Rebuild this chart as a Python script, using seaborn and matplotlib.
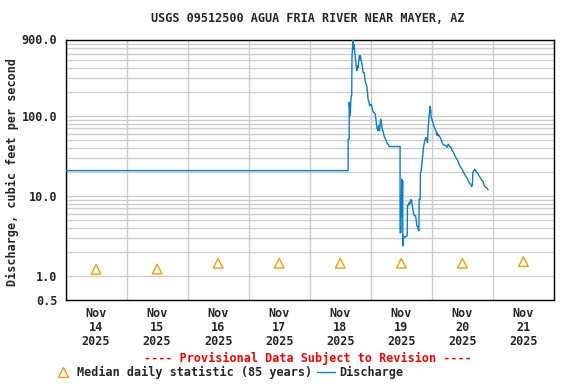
import pandas as pd
import numpy as np
import matplotlib
matplotlib.use("Agg")
import matplotlib.pyplot as plt
import matplotlib.dates as mdates
import seaborn as sns
from matplotlib.lines import Line2D
from matplotlib.ticker import FixedLocator, NullFormatter

# --------------------
# Data
# --------------------
start = pd.Timestamp("2025-11-14 00:00")

# hours since Nov 14 00:00, discharge in cfs
q_hours = [
    0, 111.1, 111.1, 111.5, 111.5, 111.7, 111.9, 112.1, 112.3, 112.5,
    112.6, 113.0, 113.2, 113.3, 113.6, 113.7, 114.5, 114.8, 115.0, 115.3,
    115.5, 115.8, 115.9, 116.2, 116.5, 116.7, 117.0, 117.4, 117.6, 117.9,
    118.4, 118.7, 118.9, 119.2, 119.5, 119.7, 120.0, 120.1, 120.4, 120.8,
    121.0, 121.3, 121.7, 122.0, 122.4, 122.6, 122.9, 123.1, 123.4, 123.7,
    123.9, 124.2, 124.5, 124.8, 125.2, 125.8, 126.3, 126.8, 127.2, 131.5,
    131.5, 131.9, 131.9, 132.2, 132.3, 132.5, 132.6, 132.7, 132.8, 133.1,
    134.3, 134.4, 134.8, 135.1, 135.3, 135.7, 136.0, 136.3, 136.5, 137.0,
    137.6, 137.8, 138.1, 138.4, 138.6, 138.9, 139.0, 139.4, 139.5, 139.8,
    140.1, 140.4, 140.7, 141.2, 141.6, 141.9, 142.3, 142.5, 142.8, 143.2,
    143.3, 143.6, 143.7, 144.0, 144.3, 144.6, 144.9, 145.2, 145.6, 145.9,
    146.2, 146.5, 146.7, 147.0, 147.3, 147.8, 148.3, 148.8, 149.4, 149.9,
    150.2, 150.4, 150.9, 151.5, 152.0, 152.5, 153.0, 153.6, 154.1, 154.6,
    155.1, 155.7, 156.2, 156.7, 157.2, 157.8, 158.3, 158.8, 159.3, 159.6,
    159.9, 160.1, 160.4, 160.9, 161.4, 162.0, 162.5, 163.0, 163.5, 164.0,
    164.3, 164.8, 165.4, 165.9, 166.1,
]
q_cfs = [
    20.7, 20.7, 51.2, 51.2, 147, 121, 100, 140, 178, 178,
    537, 905, 682, 787, 682, 619, 366, 423, 403, 488,
    563, 512, 563, 488, 444, 403, 348, 348, 302, 261,
    238, 196, 162, 154, 134, 136, 136, 140, 131, 116,
    112, 110, 105, 91, 71.6, 68.2, 65.0, 75.1, 65.0, 82.6,
    91, 78.7, 68.2, 65.0, 56.3, 51.2, 46.4, 44.2, 41.4, 41.4,
    3.48, 3.48, 5.12, 16.2, 5.63, 15.4, 2.61, 2.38, 3.17, 3.02,
    3.17, 7.66, 7.66, 8.26, 7.87, 8.93, 8.93, 7.52, 6.82, 5.74,
    5.63, 5.12, 4.23, 4.14, 3.84, 3.66, 9.10, 9.10, 19.6, 20.6,
    26.1, 31.7, 40.3, 48.8, 53.7, 52.1, 46.4, 68.2, 91, 121,
    131, 116, 95.5, 91, 84.3, 78.7, 73.6, 68.2, 65.0, 57.4,
    60.8, 56.3, 57.4, 55.2, 53.7, 48.8, 44.2, 43.0, 43.0, 40.3,
    42.3, 44.2, 42.3, 40.3, 36.6, 34.9, 32.3, 29.3, 28.0, 25.4,
    23.3, 22.0, 20.6, 19.0, 17.8, 16.7, 15.4, 14.4, 13.9, 13.1,
    13.6, 19.6, 20.6, 21.6, 20.0, 19.2, 17.8, 17.0, 15.9, 15.4,
    14.4, 13.1, 12.7, 12.1, 11.9,
]

# median daily statistic, plotted at noon of each day
median_days = ["2025-11-14", "2025-11-15", "2025-11-16", "2025-11-17",
               "2025-11-18", "2025-11-19", "2025-11-20", "2025-11-21"]
median_cfs = [1.21, 1.22, 1.44, 1.44, 1.44, 1.44, 1.44, 1.51]

y_ticks = [0.5, 1.0, 10.0, 100.0, 900.0]
y_ticklabels = ["0.5", "1.0", "10.0", "100.0", "900.0"]

q_df = pd.DataFrame({
    "time": start + pd.to_timedelta(q_hours, unit="h"),
    "cfs": q_cfs,
})
med_df = pd.DataFrame({
    "time": pd.to_datetime(median_days) + pd.Timedelta(hours=12),
    "cfs": median_cfs,
})

# --------------------
# Style
# --------------------
sns.set_theme(style="white")
plt.rcParams.update({
    "font.family": ["DejaVu Sans Mono"],
    "font.weight": "bold",
    "font.size": 8.5,
    "xtick.labelsize": 8.5,
    "ytick.labelsize": 8.5,
    "legend.fontsize": 8.5,
    "axes.edgecolor": "black",
    "axes.linewidth": 1.0,
})

line_col = "#0b7fcc"
med_col = "#f5a000"
grid_col = "#cccccc"

fig = plt.figure(figsize=(5.76, 3.84), dpi=100)
ax = fig.add_axes([65.5 / 576, 1 - 300 / 384, 488.5 / 576, 260.5 / 384])

sns.lineplot(data=q_df, x="time", y="cfs", sort=False, estimator=None,
             color=line_col, linewidth=1.0, ax=ax, zorder=3)
sns.scatterplot(data=med_df, x="time", y="cfs", marker="^", s=48,
                facecolor="none", edgecolor=med_col, linewidth=1.0,
                ax=ax, zorder=4)

ax.set_yscale("log")
ax.set_ylim(0.5, 900)
ax.set_xlim(start, start + pd.Timedelta(days=8))

# y ticks / grid
ax.yaxis.set_major_locator(FixedLocator(y_ticks))
ax.set_yticklabels(y_ticklabels)
minor_y = [m * d for d in (1, 10, 100) for m in range(2, 10)]
ax.yaxis.set_minor_locator(FixedLocator(minor_y))
ax.yaxis.set_minor_formatter(NullFormatter())

# x ticks at noon, grid at midnight
ax.xaxis.set_major_locator(mdates.HourLocator(byhour=12))
ax.xaxis.set_major_formatter(mdates.DateFormatter("%b\n%d\n%Y"))
ax.xaxis.set_minor_locator(mdates.DayLocator())

ax.grid(False)
ax.grid(True, which="minor", axis="both", color=grid_col, linewidth=1.0, zorder=0)
for v in [1.0, 10.0, 100.0]:
    ax.axhline(v, color=grid_col, linewidth=1.0, zorder=0)

ax.tick_params(which="both", length=0, labelsize=8.5)
ax.tick_params(axis="x", pad=5)
ax.tick_params(axis="y", pad=6)
for lab in ax.get_xticklabels():
    lab.set_linespacing(1.1)
    lab.set_fontweight("bold")
for lab in ax.get_yticklabels():
    lab.set_fontweight("bold")

ax.set_xlabel("")
ax.set_ylabel("")
for sp in ax.spines.values():
    sp.set_color("black")
    sp.set_linewidth(1.0)

# --------------------
# Texts
# --------------------
fig.text(308 / 576, 1 - 19 / 384, "USGS 09512500 AGUA FRIA RIVER NEAR MAYER, AZ",
         ha="center", va="center", fontweight="bold")
fig.text(12 / 576, 1 - 172 / 384, "Discharge, cubic feet per second",
         rotation=90, ha="center", va="center", fontweight="bold")
fig.text(308 / 576, 1 - 358 / 384,
         "---- Provisional Data Subject to Revision ----",
         ha="center", va="center", color="red", fontweight="bold")

handles = [
    Line2D([], [], marker="^", linestyle="none", markerfacecolor="none",
           markeredgecolor=med_col, markersize=7, markeredgewidth=1.0),
    Line2D([], [], color=line_col, linewidth=1.0),
]
fig.legend(handles, ["Median daily statistic (85 years)", "Discharge"],
           loc="center", bbox_to_anchor=(229 / 576, 1 - 372.5 / 384),
           ncol=2, frameon=False, handlelength=1.5, handletextpad=0.4,
           columnspacing=0.4, borderpad=0, borderaxespad=0,
           prop={"weight": "bold", "size": 8.5})

fig.savefig("out.png", dpi=100)
